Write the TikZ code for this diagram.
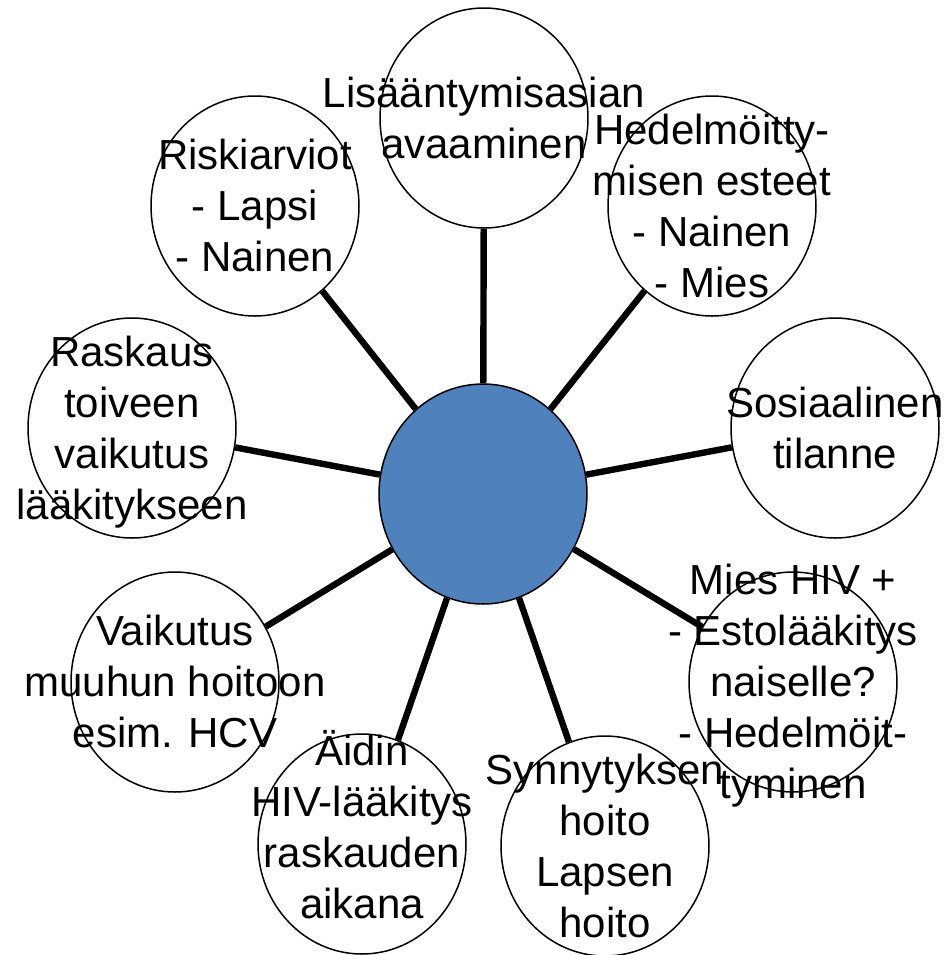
\documentclass[tikz,border=0pt]{standalone}
\usepackage{fontspec}
\setmainfont{Liberation Sans}
\usetikzlibrary{shapes.geometric}
\definecolor{hubblue}{HTML}{4F81BD}
\newcommand{\stt}{\rule[-5.5pt]{0pt}{25.5pt}}
\begin{document}
\begin{tikzpicture}[x=0.5pt,y=-0.5pt,
  bub/.style={ellipse, draw=black, line width=0.75pt, fill=white,
    minimum width=104pt, minimum height=110pt, inner sep=0pt},
  hub/.style={bub, fill=hubblue},
  lbl/.style={font=\fontsize{21}{25.5}\selectfont, align=center, inner sep=0pt},
  conn/.style={line width=3.2pt, draw=black}]
\useasboundingbox (0,0) rectangle (944,955);
% bubbles
\node[hub] (hub) at (483,494) {};
\node[bub] (top) at (484,118) {};
\node[bub] (hed) at (712,206) {};
\node[bub] (ris) at (255,206) {};
\node[bub] (sos) at (835,428) {};
\node[bub] (ras) at (132,428) {};
\node[bub] (mie) at (793,682) {};
\node[bub] (vai) at (175,682) {};
\node[bub] (syn) at (605,846) {};
\node[bub] (aid) at (362,844) {};
% connectors
\foreach \n in {top,hed,ris,sos,ras,mie,vai,syn,aid}
  \draw[conn] (hub) -- (\n);
% labels
\node[lbl] (ttop) at (484,118) {\stt Lisääntymisasian\\avaaminen\stt};
\node[lbl] (thed) at (712,206) {\stt Hedelmöitty-\\misen esteet\\- Nainen\\- Mies\stt};
\node[lbl] (tris) at (255,206) {\stt Riskiarviot\\- Lapsi\\- Nainen\stt};
\node[lbl] (tsos) at (835,428) {\stt Sosiaalinen\\tilanne\stt};
\node[lbl] (tras) at (132,428) {\stt Raskaus\\toiveen\\vaikutus\\lääkitykseen\stt};
\node[lbl] (tmie) at (793,682) {\stt Mies HIV +\\- Estolääkitys\\naiselle?\\- Hedelmöit-\\tyminen\stt};
\node[lbl] (tvai) at (175,682) {\stt Vaikutus\\muuhun hoitoon\\esim. HCV\stt};
\node[lbl] (tsyn) at (605,846) {\stt Synnytyksen\\hoito\\Lapsen\\hoito\stt};
\node[lbl] (taid) at (362,827) {\stt Äidin\\HIV-lääkitys\\raskauden\\aikana\stt};
\end{tikzpicture}
\end{document}
